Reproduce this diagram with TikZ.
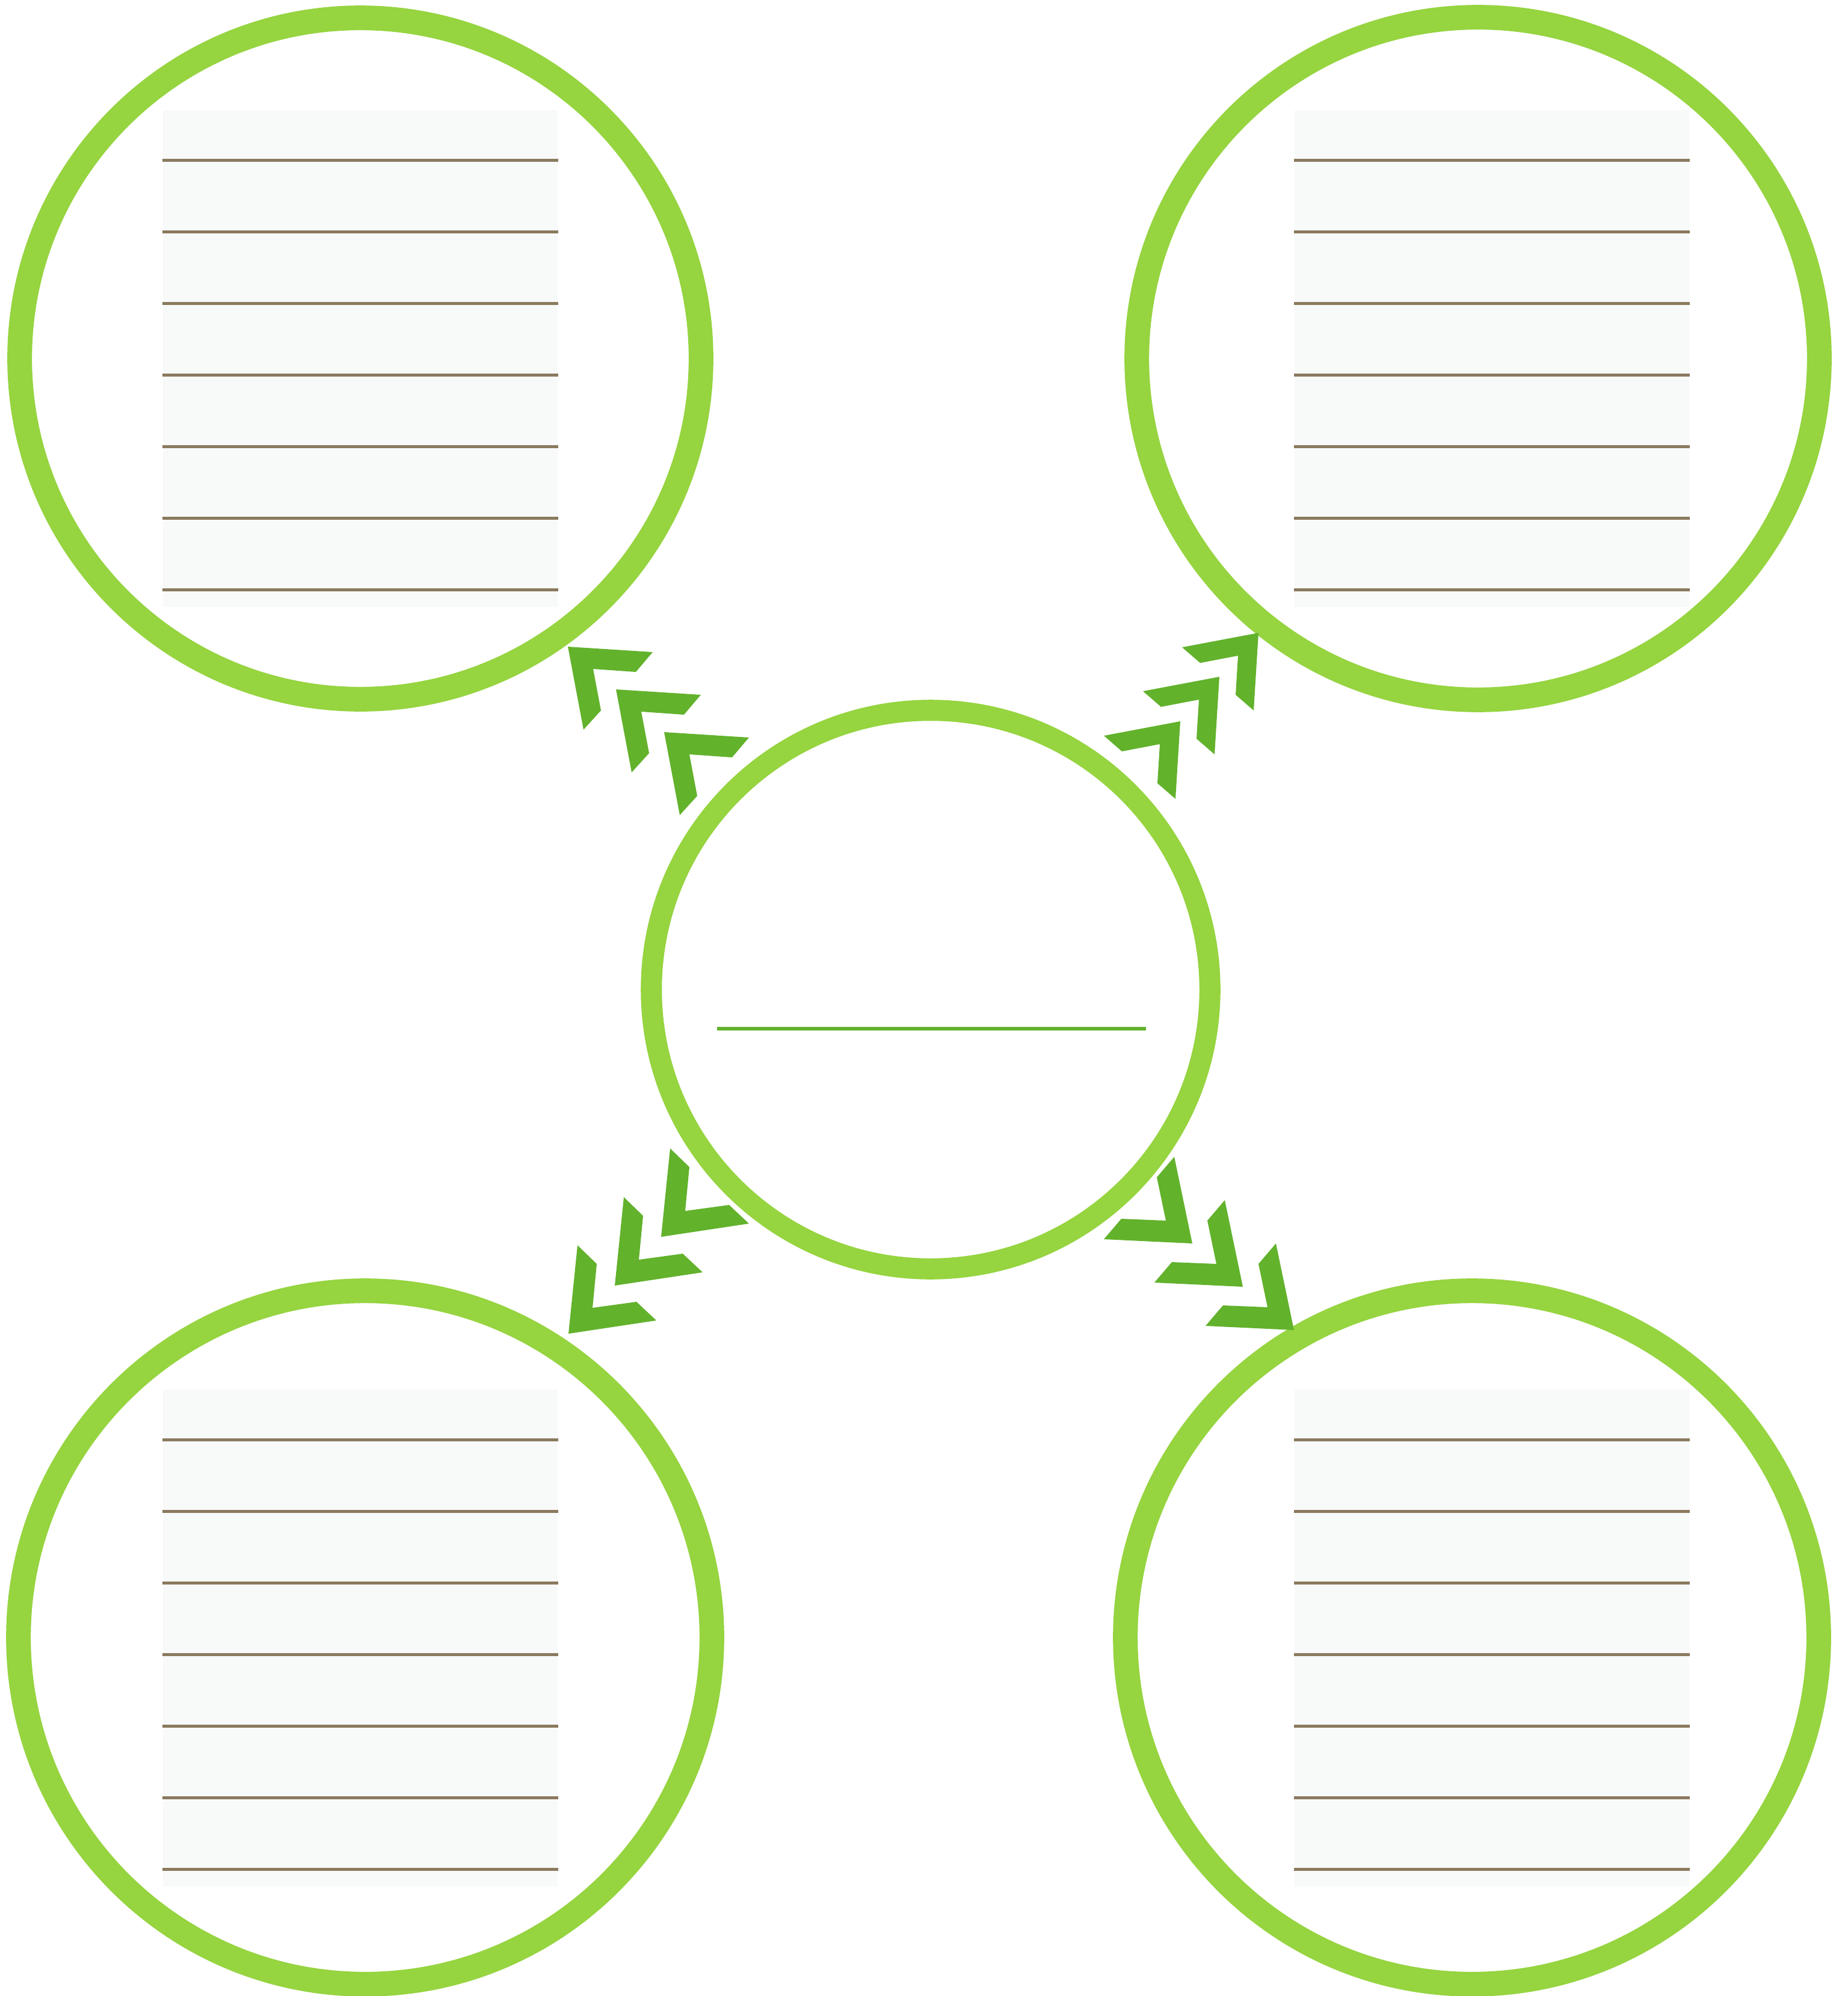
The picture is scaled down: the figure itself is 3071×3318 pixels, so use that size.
\documentclass[tikz,border=0pt]{standalone}
\usepackage{tikz}
\usetikzlibrary{positioning}

\definecolor{ringgreen}{RGB}{150,212,64}
\definecolor{arrowgreen}{RGB}{98,178,44}
\definecolor{paper}{RGB}{248,249,249}
\definecolor{rulebrown}{RGB}{139,122,95}

\begin{document}
\begin{tikzpicture}[
      x=0.01cm, y=-0.01cm,
      ring/.style={draw=ringgreen, circle, line width=0.41cm, inner sep=0pt},
      hubring/.style={draw=ringgreen, circle, line width=0.35cm, inner sep=0pt,
                      minimum size=9.28cm},
      sheet/.style={fill=paper, inner sep=0pt, minimum width=6.56cm,
                    minimum height=8.26cm},
      ruling/.style={draw=rulebrown, line width=0.05cm},
      chev/.style={fill=arrowgreen},
      hubline/.style={draw=arrowgreen, line width=0.06cm},
    ]
    \useasboundingbox (0,0) rectangle (3071,3318);

    % lined sheets
    \node[sheet] (tlsheet) at (599,596)   {};
    \node[sheet] (trsheet) at (2480,596)  {};
    \node[sheet] (blsheet) at (599,2723)  {};
    \node[sheet] (brsheet) at (2480,2723) {};
    \foreach \s in {tlsheet,trsheet,blsheet,brsheet}
      \foreach \k in {0,...,6}
        \draw[ruling] ([yshift={-0.84cm-1.19cm*\k}]\s.north west)
                   -- ([yshift={-0.84cm-1.19cm*\k}]\s.north east);

    % outer circles
    \node[ring, minimum size=11.32cm] (tl) at (599,596)   {};
    \node[ring, minimum size=11.34cm] (tr) at (2457,596)  {};
    \node[ring, minimum size=11.52cm] (bl) at (607,2722)  {};
    \node[ring, minimum size=11.52cm] (br) at (2447,2722) {};

    % hub
    \node[hubring] (hub) at (1547,1645) {};
    \draw[hubline] (1192,1710) -- (1905,1710);

    % chevrons, hub -> corners
    \foreach \dx/\dy in {0/0,80/71,160/142}
      \fill[chev, shift={(944+\dx,1075+\dy)}]
        (0,0) -- (141,9) -- (113,42) -- (42,37) -- (55,106) -- (26,138) -- cycle;
    \foreach \dx/\dy in {0/0,-65/73,-130/147}
      \fill[chev, shift={(2092+\dx,1052+\dy)}]
        (0,0) -- (-127,24) -- (-97,50) -- (-34,38) -- (-38,103) -- (-8,129) -- cycle;
    \foreach \dx/\dy in {0/0,77/-80,154/-161}
      \fill[chev, shift={(945+\dx,2217+\dy)}]
        (0,0) -- (15,-147) -- (47,-116) -- (40,-43) -- (113,-53) -- (146,-22) -- cycle;
    \foreach \dx/\dy in {0/0,-85/-72,-169/-144}
      \fill[chev, shift={(2151+\dx,2211+\dy)}]
        (0,0) -- (-30,-144) -- (-59,-110) -- (-44,-38) -- (-118,-41) -- (-147,-7) -- cycle;
  \end{tikzpicture}
\end{document}
